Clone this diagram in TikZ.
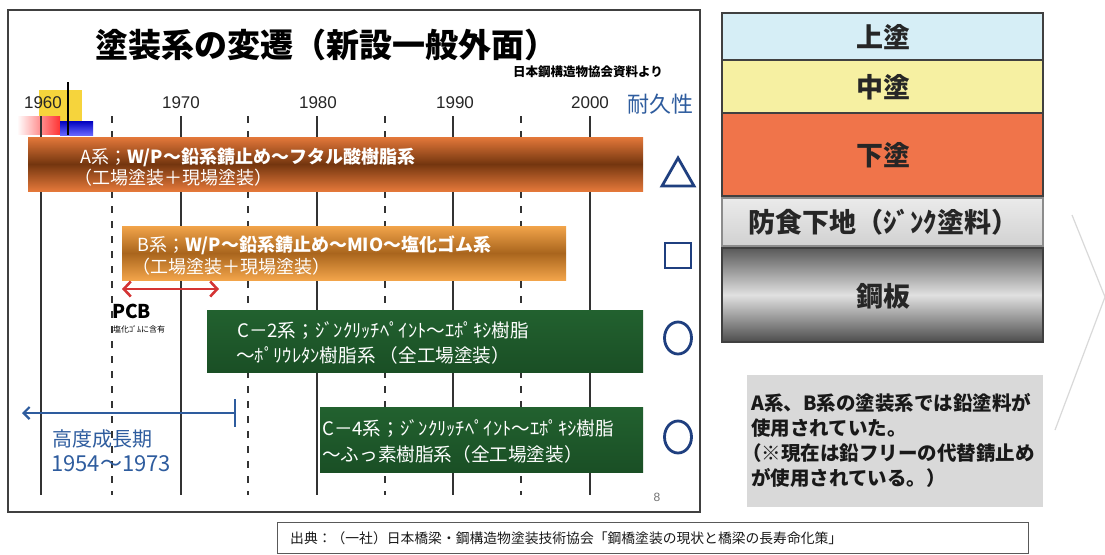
\documentclass[tikz,border=0pt]{standalone}
\usepackage{fontspec}
\setmainfont{Noto Sans CJK JP}
\newfontfamily\lat{Liberation Sans}
\usetikzlibrary{arrows.meta}
\definecolor{aO}{HTML}{E4783A}
\definecolor{aD}{HTML}{74360F}
\definecolor{bO}{HTML}{F2A44A}
\definecolor{bD}{HTML}{A9651D}
\definecolor{gT}{HTML}{22612F}
\definecolor{gB}{HTML}{1A4F25}
\definecolor{dblue}{HTML}{1F3F7F}
\definecolor{lblue}{HTML}{2E5C9E}
\definecolor{pcbred}{HTML}{D43434}
\definecolor{topc}{HTML}{D6EEF6}
\definecolor{midc}{HTML}{F6F0A2}
\definecolor{undc}{HTML}{F0744A}
\definecolor{greybox}{HTML}{D9D9D9}
\definecolor{logoy}{HTML}{F6D43C}
\newcommand{\fs}[1]{\fontsize{#1}{#1}\selectfont}
\begin{document}
\begin{tikzpicture}[x=1pt,y=-1pt,
  txt/.style={inner sep=0pt, anchor=west},
  wtxt/.style={txt, text=white, font=\fs{18}},
  gtxt/.style={txt, text=white, font=\fs{18.6}},
  yr/.style={inner sep=0pt, font=\lat\fs{17}, text=black!85},
  solidl/.style={draw=black!80, line width=1.6pt},
  dashl/.style={draw=black!80, line width=1.6pt, dash pattern=on 7pt off 8pt},
  durmark/.style={draw=dblue, line width=2.8pt},
  layer/.style={draw=black!75, line width=1.1pt},
  laytxt/.style={inner sep=0pt, font=\bfseries\fs{27}, text=black!85}]
\useasboundingbox (0,0) rectangle (1105,554);
\fill[white] (0,0) rectangle (1105,554);
% slide frame
\draw[black!75, line width=1.6pt, fill=white] (8,10) rectangle (700,512);
% logo
\fill[logoy] (39,90) rectangle (82,123);
\shade[left color=white, right color=red!80] (17,116) rectangle (60,134);
\shade[top color=blue!75!black, bottom color=blue!60] (60,121) rectangle (93,135);
\draw[black, line width=1.4pt] (68,82) -- (68,135);
% title
\node[inner sep=0pt, font=\bfseries\fs{33}] (title) at (326,45) {塗装系の変遷（新設一般外面）};
\node[inner sep=0pt, font=\bfseries\fs{12.5}] (src) at (588,72) {日本鋼構造物協会資料より};
% years
\node[yr] (y1960) at (43,103) {1960};
\node[yr] (y1970) at (181,103) {1970};
\node[yr] (y1980) at (318,103) {1980};
\node[yr] (y1990) at (455,103) {1990};
\node[yr] (y2000) at (590,103) {2000};
\node[inner sep=0pt, font=\fs{22}, text=lblue] (tai) at (660,104) {耐久性};
% grid lines
\foreach \x in {41,181,317,453,590} \draw[solidl] (\x,116) -- (\x,495);
\foreach \x in {112,248,385,521} \draw[dashl] (\x,116) -- (\x,495);
% bars
\shade[top color=aO, bottom color=aO, middle color=aD] (28,137) rectangle (643,191);
\node[wtxt] (a1) at (80,157) {A系；\bfseries W/P～鉛系錆止め～フタル酸樹脂系};
\node[wtxt] (a2) at (74,178) {（工場塗装＋現場塗装）};
\shade[top color=bO, bottom color=bO, middle color=bD] (122,226) rectangle (566,280);
\node[wtxt] (b1) at (137,245) {B系；\bfseries W/P～鉛系錆止め～MIO～塩化ゴム系};
\node[wtxt] (b2) at (132,267) {（工場塗装＋現場塗装）};
\shade[top color=gT, bottom color=gB] (207,310) rectangle (643,372);
\node[gtxt] (c21) at (237,331) {C－2系；ｼﾞﾝｸﾘｯﾁﾍﾟｲﾝﾄ～ｴﾎﾟｷｼ樹脂};
\node[gtxt] (c22) at (236,355) {～ﾎﾟﾘｳﾚﾀﾝ樹脂系 （全工場塗装）};
\shade[top color=gT, bottom color=gB] (320,407) rectangle (643,472);
\node[gtxt] (c41) at (322,429) {C－4系；ｼﾞﾝｸﾘｯﾁﾍﾟｲﾝﾄ～ｴﾎﾟｷｼ樹脂};
\node[gtxt] (c42) at (322,454) {～ふっ素樹脂系（全工場塗装）};
% durability marks
\draw[durmark, line join=miter] (662,186) -- (694,186) -- (678,158) -- cycle;
\draw[durmark] (665,243) rectangle (691,268);
\draw[durmark] (678,338) ellipse (13.5pt and 16pt);
\draw[durmark] (678,437) ellipse (13.5pt and 16pt);
% PCB
\coordinate (pcbL) at (122,289);
\coordinate (pcbR) at (219,289);
\draw[pcbred, line width=2.6pt, {Straight Barb[length=7pt,width=15pt]}-{Straight Barb[length=7pt,width=15pt]}] (pcbL) -- (pcbR);
\node[txt, font=\bfseries\fs{19}] (pcb) at (112,311) {PCB};
\node[txt, font=\fs{8}] (pcbn) at (113,329) {塩化ｺﾞﾑに含有};
% high growth
\coordinate (hgR) at (235,413);
\coordinate (hgL) at (22,413);
\draw[lblue, line width=2.2pt, -{Straight Barb[length=6pt,width=12pt]}] (hgR) -- (hgL);
\draw[lblue, line width=2.4pt] (235,399) -- (235,427);
\node[txt, font=\fs{20}, text=lblue] (hg1) at (52,439) {高度成長期};
\node[txt, font=\fs{22}, text=lblue] (hg2) at (51,464) {1954～1973};
\node[inner sep=0pt, font=\lat\fs{12}, text=black!55] (pg) at (657,497) {8};
% layer stack
\fill[topc] (722,13) rectangle (1043,60); \draw[layer] (722,13) rectangle (1043,60);
\fill[midc] (722,60) rectangle (1043,113); \draw[layer] (722,60) rectangle (1043,113);
\fill[undc] (722,113) rectangle (1043,196); \draw[layer] (722,113) rectangle (1043,196);
\shade[top color=black!8, bottom color=black!18] (722,198) rectangle (1043,246); \draw[layer, draw=black!45] (722,198) rectangle (1043,246);
\shade[top color=black!65, bottom color=black!70, middle color=black!12] (722,248) rectangle (1043,342); \draw[layer] (722,248) rectangle (1043,342);
\node[laytxt] (l1) at (883,37) {上塗};
\node[laytxt] (l2) at (883,87) {中塗};
\node[laytxt] (l3) at (883,155) {下塗};
\node[laytxt] (l4) at (883,222) {防食下地（ｼﾞﾝｸ塗料）};
\node[laytxt] (l5) at (883,296) {鋼板};
% chevron
\draw[black!15, line width=1.2pt] (1072,215) -- (1105,297) -- (1055,430);
% grey note
\fill[greybox] (747,375) rectangle (1043,507);
\node[txt, anchor=north west, align=left, font=\bfseries\fontsize{19.5}{25}\selectfont, text=black!90] (note) at (751,393)
 {A系、B系の塗装系では鉛塗料が\\使用されていた。\\\hspace*{-0.45em}（※現在は鉛フリーの代替錆止め\\が使用されている。）};
% citation
\draw[black!65, line width=1pt, fill=white] (277,522) rectangle (1028,553);
\node[txt, font=\fs{13.8}, text=black!90] (cite) at (290,538) {出典：（一社）日本橋梁・鋼構造物塗装技術協会「鋼橋塗装の現状と橋梁の長寿命化策」};
\end{tikzpicture}
\end{document}
